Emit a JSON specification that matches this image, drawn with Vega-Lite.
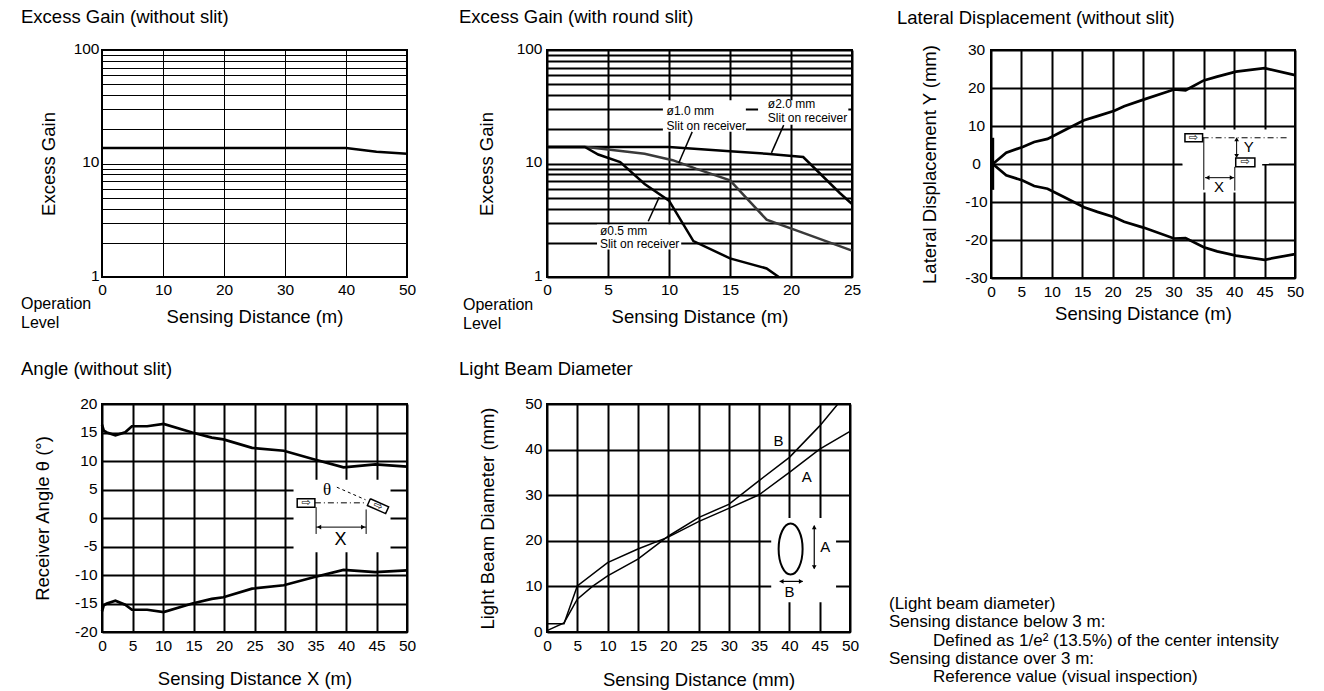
{
  "$schema": "https://vega.github.io/schema/vega-lite/v6.json",
  "background": "white",
  "padding": {"left": 20, "top": 6, "right": 0, "bottom": 0},
  "columns": 5,
  "align": "each",
  "bounds": "flush",
  "spacing": {"row": 126, "column": 10},
  "config": {
    "font": "Liberation Sans",
    "view": {"stroke": null},
    "axis": {"labelFont": "Liberation Sans", "titleFont": "Liberation Sans", "labelFontSize": 15.5, "titleFontSize": 18.5, "labelColor": "black", "titleColor": "black", "titleFontWeight": "normal", "domain": false, "ticks": false, "tickSize": 0, "gridColor": "black", "gridOpacity": 1, "labelPadding": 4, "titleBaseline": "middle", "labelOverlap": false, "labelFlush": false},
    "title": {"anchor": "start", "frame": "group", "font": "Liberation Sans", "fontSize": 18.5, "fontWeight": "normal", "color": "black", "baseline": "alphabetic", "offset": 15},
    "text": {"font": "Liberation Sans", "color": "black"}
  },
  "concat": [
    {
      "width": 305, "height": 227,
      "view": {"stroke": "black", "strokeWidth": 2},
      "title": {"text": "Excess Gain (without slit)", "dx": -81},
      "layer": [
        {
          "data": {"values": [{"d": 0, "g": 13.7}, {"d": 40, "g": 13.7}, {"d": 45, "g": 12.7}, {"d": 50, "g": 12.2}]},
          "mark": {"type": "line", "color": "black", "strokeWidth": 2.5},
          "encoding": {
            "x": {"field": "d", "type": "quantitative", "scale": {"domain": [0, 50], "nice": false, "zero": false},
                  "axis": {"values": [0, 10, 20, 30, 40, 50], "tickCount": 100, "labelExpr": "'' + datum.value", "labelOverlap": false, "grid": true, "gridWidth": 1, "labelPadding": 5, "title": "Sensing Distance (m)", "titleY": 39}},
            "y": {"field": "g", "type": "quantitative", "scale": {"type": "log", "domain": [1, 100], "nice": false},
                  "axis": {"values": [1, 2, 3, 4, 5, 6, 7, 8, 9, 10, 20, 30, 40, 50, 60, 70, 80, 90, 100], "tickCount": 100, "labelOverlap": false, "grid": true, "gridWidth": 1, "labelExpr": "datum.value == 1 || datum.value == 10 || datum.value == 100 ? '' + datum.value : ''", "labelPadding": 3, "labelOffset": -2, "title": "Excess Gain", "titleX": -54}}
          }
        },
        {
          "data": {"values": [{"label": ["Operation", "Level"]}]},
          "mark": {"type": "text", "align": "left", "baseline": "middle", "dx": -81, "dy": 26.5, "lineHeight": 19, "fontSize": 16},
          "encoding": {"x": {"datum": 0}, "y": {"datum": 1}, "text": {"field": "label"}}
        }
      ]
    },
    {"width": 120, "height": 1, "data": {"values": []}, "mark": "point", "encoding": {}},
    {
      "width": 305, "height": 227,
      "view": {"stroke": "black", "strokeWidth": 2},
      "title": {"text": "Excess Gain (with round slit)", "dx": -88},
      "layer": [
        {
          "data": {"values": [
            {"slit": "2.0", "d": 0, "g": 14}, {"slit": "2.0", "d": 10, "g": 14}, {"slit": "2.0", "d": 15, "g": 12.8}, {"slit": "2.0", "d": 18, "g": 12.2}, {"slit": "2.0", "d": 21, "g": 11.4}, {"slit": "2.0", "d": 24, "g": 5.5}, {"slit": "2.0", "d": 25, "g": 4.4},
            {"slit": "1.0", "d": 0, "g": 14}, {"slit": "1.0", "d": 3.2, "g": 14}, {"slit": "1.0", "d": 5, "g": 13.3}, {"slit": "1.0", "d": 8, "g": 12.2}, {"slit": "1.0", "d": 10.3, "g": 10.7}, {"slit": "1.0", "d": 12.2, "g": 9.0}, {"slit": "1.0", "d": 15, "g": 7.1}, {"slit": "1.0", "d": 18, "g": 3.2}, {"slit": "1.0", "d": 21, "g": 2.45}, {"slit": "1.0", "d": 25, "g": 1.71},
            {"slit": "0.5", "d": 0, "g": 14}, {"slit": "0.5", "d": 3.1, "g": 14}, {"slit": "0.5", "d": 4.2, "g": 12.0}, {"slit": "0.5", "d": 6, "g": 10.3}, {"slit": "0.5", "d": 8, "g": 6.6}, {"slit": "0.5", "d": 10, "g": 4.7}, {"slit": "0.5", "d": 12, "g": 2.07}, {"slit": "0.5", "d": 15, "g": 1.46}, {"slit": "0.5", "d": 18, "g": 1.19}, {"slit": "0.5", "d": 19, "g": 1.0}
          ]},
          "mark": {"type": "line", "strokeWidth": 2.5},
          "encoding": {
            "x": {"field": "d", "type": "quantitative", "scale": {"domain": [0, 25], "nice": false, "zero": false},
                  "axis": {"values": [0, 5, 10, 15, 20, 25], "tickCount": 100, "labelExpr": "'' + datum.value", "labelOverlap": false, "grid": true, "gridWidth": 2, "labelPadding": 5, "title": "Sensing Distance (m)", "titleY": 39}},
            "y": {"field": "g", "type": "quantitative", "scale": {"type": "log", "domain": [1, 100], "nice": false},
                  "axis": {"values": [1, 2, 3, 4, 5, 6, 7, 8, 9, 10, 20, 30, 40, 50, 60, 70, 80, 90, 100], "tickCount": 100, "labelOverlap": false, "grid": true, "gridWidth": 2, "labelExpr": "datum.value == 1 || datum.value == 10 || datum.value == 100 ? '' + datum.value : ''", "labelPadding": 5, "labelOffset": -2, "title": "Excess Gain", "titleX": -61}},
            "color": {"field": "slit", "type": "nominal", "scale": {"domain": ["0.5", "1.0", "2.0"], "range": ["black", "#3a3a3a", "black"]}, "legend": null}
          }
        },
        {
          "data": {"values": [{"x": 9.5, "x2": 16.3, "y": 19, "y2": 36}, {"x": 17.3, "x2": 24.7, "y": 22, "y2": 36}, {"x": 4.1, "x2": 11.0, "y": 1.75, "y2": 2.9}]},
          "mark": {"type": "rect", "color": "white"},
          "encoding": {"x": {"field": "x", "type": "quantitative"}, "x2": {"field": "x2"}, "y": {"field": "y", "type": "quantitative"}, "y2": {"field": "y2"}}
        },
        {
          "data": {"values": [{"x": 11.9, "y": 19.0, "x2": 10.8, "y2": 10.1}, {"x": 19.4, "y": 21.8, "x2": 18.4, "y2": 12.4}, {"x": 8.3, "y": 3.1, "x2": 9.2, "y2": 5.05}]},
          "mark": {"type": "rule", "color": "black", "strokeWidth": 1.5},
          "encoding": {"x": {"field": "x", "type": "quantitative"}, "x2": {"field": "x2"}, "y": {"field": "y", "type": "quantitative"}, "y2": {"field": "y2"}}
        },
        {
          "data": {"values": [
            {"x": 9.8, "y": 28.9, "t": "ø1.0 mm"}, {"x": 9.8, "y": 21.3, "t": "Slit on receiver"},
            {"x": 18.1, "y": 33.5, "t": "ø2.0 mm"}, {"x": 18.1, "y": 25.3, "t": "Slit on receiver"},
            {"x": 4.34, "y": 2.53, "t": "ø0.5 mm"}, {"x": 4.34, "y": 1.96, "t": "Slit on receiver"}
          ]},
          "mark": {"type": "text", "align": "left", "baseline": "middle", "fontSize": 12},
          "encoding": {"x": {"field": "x", "type": "quantitative"}, "y": {"field": "y", "type": "quantitative"}, "text": {"field": "t"}}
        },
        {
          "data": {"values": [{"label": ["Operation", "Level"]}]},
          "mark": {"type": "text", "align": "left", "baseline": "middle", "dx": -84, "dy": 28, "lineHeight": 19, "fontSize": 16},
          "encoding": {"x": {"datum": 0}, "y": {"datum": 1}, "text": {"field": "label"}}
        }
      ]
    },
    {"width": 119, "height": 1, "data": {"values": []}, "mark": "point", "encoding": {}},
    {
      "width": 304, "height": 228,
      "view": {"stroke": "black", "strokeWidth": 2},
      "title": {"text": "Lateral Displacement (without slit)", "dx": -94},
      "layer": [
        {
          "data": {"values": [
            {"side": "up", "d": 0.3, "y": 0}, {"side": "up", "d": 2.5, "y": 2.95}, {"side": "up", "d": 5.2, "y": 4.5}, {"side": "up", "d": 7.1, "y": 5.8}, {"side": "up", "d": 9.3, "y": 6.6}, {"side": "up", "d": 12, "y": 8.8}, {"side": "up", "d": 15.3, "y": 11.5}, {"side": "up", "d": 17.5, "y": 12.6}, {"side": "up", "d": 20.3, "y": 14}, {"side": "up", "d": 21.9, "y": 15.2}, {"side": "up", "d": 25.2, "y": 17}, {"side": "up", "d": 30.1, "y": 19.6}, {"side": "up", "d": 32, "y": 19.4}, {"side": "up", "d": 35, "y": 22}, {"side": "up", "d": 37.2, "y": 23}, {"side": "up", "d": 40.3, "y": 24.3}, {"side": "up", "d": 45, "y": 25.2}, {"side": "up", "d": 50, "y": 23.4},
            {"side": "down", "d": 0.3, "y": 0}, {"side": "down", "d": 2.5, "y": -2.95}, {"side": "down", "d": 5.2, "y": -4.35}, {"side": "down", "d": 7.1, "y": -5.8}, {"side": "down", "d": 9.3, "y": -6.5}, {"side": "down", "d": 12, "y": -8.7}, {"side": "down", "d": 15.3, "y": -11.4}, {"side": "down", "d": 17.5, "y": -12.6}, {"side": "down", "d": 20.3, "y": -14}, {"side": "down", "d": 21.9, "y": -15.2}, {"side": "down", "d": 25.2, "y": -16.8}, {"side": "down", "d": 30.1, "y": -19.6}, {"side": "down", "d": 32, "y": -19.5}, {"side": "down", "d": 35, "y": -21.9}, {"side": "down", "d": 37.2, "y": -23}, {"side": "down", "d": 40.3, "y": -24.1}, {"side": "down", "d": 45, "y": -25.2}, {"side": "down", "d": 50, "y": -23.7}
          ]},
          "mark": {"type": "line", "color": "black", "strokeWidth": 2.7},
          "encoding": {
            "x": {"field": "d", "type": "quantitative", "scale": {"domain": [0, 50], "nice": false, "zero": false},
                  "axis": {"values": [0, 5, 10, 15, 20, 25, 30, 35, 40, 45, 50], "tickCount": 100, "labelExpr": "'' + datum.value", "labelOverlap": false, "grid": true, "gridWidth": 2, "labelPadding": 6, "title": "Sensing Distance (m)", "titleY": 35}},
            "y": {"field": "y", "type": "quantitative", "scale": {"domain": [-30, 30], "nice": false, "zero": false},
                  "axis": {"values": [-30, -20, -10, 0, 10, 20, 30], "tickCount": 100, "labelOverlap": false, "grid": true, "gridWidth": 2, "labelExpr": "'' + datum.value", "labelAlign": "center", "labelPadding": 15, "labelOffset": -1, "title": "Lateral Displacement Y (mm)", "titleX": -62}},
            "detail": {"field": "side"}
          }
        },
        {
          "data": {"values": [{"x": 0.28, "y": 6.9, "y2": -6.8}]},
          "mark": {"type": "rule", "color": "black", "strokeWidth": 3},
          "encoding": {"x": {"field": "x", "type": "quantitative"}, "y": {"field": "y", "type": "quantitative"}, "y2": {"field": "y2"}}
        },
        {
          "data": {"values": [{"x": 31.5, "x2": 45.7, "y": 0, "y2": 9.1}, {"x": 31.5, "x2": 44.6, "y": -7.5, "y2": 0.1}]},
          "mark": {"type": "rect", "color": "white"},
          "encoding": {"x": {"field": "x", "type": "quantitative"}, "x2": {"field": "x2"}, "y": {"field": "y", "type": "quantitative"}, "y2": {"field": "y2"}}
        },
        {
          "data": {"values": [{"x": 34.8, "x2": 48.8, "y": 6.9, "y2": 6.9}]},
          "mark": {"type": "rule", "color": "black", "strokeWidth": 1, "strokeDash": [6, 3, 1, 3]},
          "encoding": {"x": {"field": "x", "type": "quantitative"}, "x2": {"field": "x2"}, "y": {"field": "y", "type": "quantitative"}, "y2": {"field": "y2"}}
        },
        {
          "data": {"values": [
            {"x": 35, "x2": 35, "y": 6.9, "y2": -6.8}, {"x": 40.1, "x2": 40.1, "y": -0.75, "y2": -7.0},
            {"x": 40.4, "x2": 40.4, "y": 6.6, "y2": 2.0}, {"x": 35.2, "x2": 40.0, "y": -3.6, "y2": -3.6}
          ]},
          "mark": {"type": "rule", "color": "black", "strokeWidth": 1},
          "encoding": {"x": {"field": "x", "type": "quantitative"}, "x2": {"field": "x2"}, "y": {"field": "y", "type": "quantitative"}, "y2": {"field": "y2"}}
        },
        {
          "data": {"values": [{"x": 40.4, "y": 6.5, "s": "triangle-up"}, {"x": 40.4, "y": 2.1, "s": "triangle-down"}, {"x": 35.6, "y": -3.6, "s": "triangle-left"}, {"x": 39.6, "y": -3.6, "s": "triangle-right"}]},
          "mark": {"type": "point", "filled": true, "color": "black", "opacity": 1, "size": 22},
          "encoding": {"x": {"field": "x", "type": "quantitative"}, "y": {"field": "y", "type": "quantitative"}, "shape": {"field": "s", "type": "nominal", "scale": null}}
        },
        {
          "data": {"values": [{"x": 31.9, "x2": 34.8, "y": 5.85, "y2": 7.95}, {"x": 40.25, "x2": 43.4, "y": -0.75, "y2": 1.6}]},
          "mark": {"type": "rect", "fill": "white", "stroke": "black", "strokeWidth": 1.5},
          "encoding": {"x": {"field": "x", "type": "quantitative"}, "x2": {"field": "x2"}, "y": {"field": "y", "type": "quantitative"}, "y2": {"field": "y2"}}
        },
        {
          "data": {"values": [{"x": 33.3, "y": 6.9, "t": "⇨"}, {"x": 41.8, "y": 0.45, "t": "⇨"}]},
          "mark": {"type": "text", "font": "DejaVu Sans", "fontSize": 11, "align": "center", "baseline": "middle"},
          "encoding": {"x": {"field": "x", "type": "quantitative"}, "y": {"field": "y", "type": "quantitative"}, "text": {"field": "t"}}
        },
        {
          "data": {"values": [{"x": 42.4, "y": 4.4, "t": "Y"}, {"x": 37.5, "y": -6.1, "t": "X"}]},
          "mark": {"type": "text", "fontSize": 15, "align": "center", "baseline": "middle"},
          "encoding": {"x": {"field": "x", "type": "quantitative"}, "y": {"field": "y", "type": "quantitative"}, "text": {"field": "t"}}
        }
      ]
    },
    {
      "width": 305, "height": 228,
      "view": {"stroke": "black", "strokeWidth": 2},
      "title": {"text": "Angle (without slit)", "dx": -81, "offset": 18},
      "layer": [
        {
          "data": {"values": [
            {"side": "up", "d": 0, "a": 16.4}, {"side": "up", "d": 0.3, "a": 15.3}, {"side": "up", "d": 0.8, "a": 15.0}, {"side": "up", "d": 2.2, "a": 14.5}, {"side": "up", "d": 3.8, "a": 15.05}, {"side": "up", "d": 4.9, "a": 16.1}, {"side": "up", "d": 7.4, "a": 16.1}, {"side": "up", "d": 10.1, "a": 16.5}, {"side": "up", "d": 14.8, "a": 15.0}, {"side": "up", "d": 18, "a": 14.1}, {"side": "up", "d": 19.9, "a": 13.8}, {"side": "up", "d": 24.6, "a": 12.3}, {"side": "up", "d": 29.8, "a": 11.8}, {"side": "up", "d": 34.7, "a": 10.3}, {"side": "up", "d": 39.6, "a": 8.9}, {"side": "up", "d": 44.8, "a": 9.4}, {"side": "up", "d": 50, "a": 9.0},
            {"side": "down", "d": 0, "a": -16.4}, {"side": "down", "d": 0.3, "a": -15.3}, {"side": "down", "d": 0.8, "a": -15.0}, {"side": "down", "d": 2.2, "a": -14.5}, {"side": "down", "d": 3.8, "a": -15.2}, {"side": "down", "d": 4.9, "a": -16.1}, {"side": "down", "d": 7.4, "a": -16.1}, {"side": "down", "d": 10.1, "a": -16.5}, {"side": "down", "d": 14.8, "a": -15.0}, {"side": "down", "d": 18, "a": -14.2}, {"side": "down", "d": 19.9, "a": -13.9}, {"side": "down", "d": 24.6, "a": -12.4}, {"side": "down", "d": 29.8, "a": -11.8}, {"side": "down", "d": 34.7, "a": -10.4}, {"side": "down", "d": 39.6, "a": -9.1}, {"side": "down", "d": 44.8, "a": -9.5}, {"side": "down", "d": 50, "a": -9.2}
          ]},
          "mark": {"type": "line", "color": "black", "strokeWidth": 2.7},
          "encoding": {
            "x": {"field": "d", "type": "quantitative", "scale": {"domain": [0, 50], "nice": false, "zero": false},
                  "axis": {"values": [0, 5, 10, 15, 20, 25, 30, 35, 40, 45, 50], "tickCount": 100, "labelExpr": "'' + datum.value", "labelOverlap": false, "grid": true, "gridWidth": 2, "labelPadding": 6, "title": "Sensing Distance X (m)", "titleY": 46}},
            "y": {"field": "a", "type": "quantitative", "scale": {"domain": [-20, 20], "nice": false, "zero": false},
                  "axis": {"values": [-20, -15, -10, -5, 0, 5, 10, 15, 20], "tickCount": 100, "labelOverlap": false, "grid": true, "gridWidth": 2, "labelExpr": "'' + datum.value", "labelPadding": 5, "labelOffset": -1, "title": "Receiver Angle θ (°)", "titleX": -60}},
            "detail": {"field": "side"}
          }
        },
        {
          "data": {"values": [{"x": 31.4, "x2": 47.3, "y": -6.0, "y2": 6.7}]},
          "mark": {"type": "rect", "color": "white"},
          "encoding": {"x": {"field": "x", "type": "quantitative"}, "x2": {"field": "x2"}, "y": {"field": "y", "type": "quantitative"}, "y2": {"field": "y2"}}
        },
        {
          "data": {"values": [{"x": 34.9, "x2": 43.4, "y": 2.66, "y2": 2.66}]},
          "mark": {"type": "rule", "color": "black", "strokeWidth": 1, "strokeDash": [6, 3, 1, 3]},
          "encoding": {"x": {"field": "x", "type": "quantitative"}, "x2": {"field": "x2"}, "y": {"field": "y", "type": "quantitative"}, "y2": {"field": "y2"}}
        },
        {
          "data": {"values": [{"x": 38.5, "x2": 43.2, "y": 5.4, "y2": 3.2}]},
          "mark": {"type": "rule", "color": "black", "strokeWidth": 1, "strokeDash": [3, 3]},
          "encoding": {"x": {"field": "x", "type": "quantitative"}, "x2": {"field": "x2"}, "y": {"field": "y", "type": "quantitative"}, "y2": {"field": "y2"}}
        },
        {
          "data": {"values": [
            {"x": 35.1, "x2": 35.1, "y": 1.9, "y2": -2.8}, {"x": 43.3, "x2": 43.3, "y": 1.5, "y2": -2.8},
            {"x": 35.1, "x2": 43.3, "y": -1.6, "y2": -1.6}
          ]},
          "mark": {"type": "rule", "color": "black", "strokeWidth": 1},
          "encoding": {"x": {"field": "x", "type": "quantitative"}, "x2": {"field": "x2"}, "y": {"field": "y", "type": "quantitative"}, "y2": {"field": "y2"}}
        },
        {
          "data": {"values": [{"x": 35.6, "y": -1.6, "s": "triangle-left"}, {"x": 42.8, "y": -1.6, "s": "triangle-right"}]},
          "mark": {"type": "point", "filled": true, "color": "black", "opacity": 1, "size": 22},
          "encoding": {"x": {"field": "x", "type": "quantitative"}, "y": {"field": "y", "type": "quantitative"}, "shape": {"field": "s", "type": "nominal", "scale": null}}
        },
        {
          "data": {"values": [{"x": 32.0, "x2": 34.9, "y": 1.9, "y2": 3.36}]},
          "mark": {"type": "rect", "fill": "white", "stroke": "black", "strokeWidth": 1.5},
          "encoding": {"x": {"field": "x", "type": "quantitative"}, "x2": {"field": "x2"}, "y": {"field": "y", "type": "quantitative"}, "y2": {"field": "y2"}}
        },
        {
          "data": {"values": [{"o": 1, "x": 43.99, "y": 3.37}, {"o": 2, "x": 46.99, "y": 1.95}, {"o": 3, "x": 46.5, "y": 0.77}, {"o": 4, "x": 43.5, "y": 2.19}, {"o": 5, "x": 43.99, "y": 3.37}]},
          "mark": {"type": "line", "color": "black", "strokeWidth": 1.5},
          "encoding": {"x": {"field": "x", "type": "quantitative"}, "y": {"field": "y", "type": "quantitative"}, "order": {"field": "o"}}
        },
        {
          "data": {"values": [{"x": 33.45, "y": 2.63, "t": "⇨", "ang": 0}, {"x": 45.25, "y": 2.07, "t": "⇨", "ang": 24}]},
          "mark": {"type": "text", "font": "DejaVu Sans", "fontSize": 11, "align": "center", "baseline": "middle"},
          "encoding": {"x": {"field": "x", "type": "quantitative"}, "y": {"field": "y", "type": "quantitative"}, "text": {"field": "t"}, "angle": {"field": "ang", "type": "quantitative", "scale": null}}
        },
        {
          "data": {"values": [{"x": 36.9, "y": 5.0, "t": "θ"}]},
          "mark": {"type": "text", "font": "Liberation Serif", "fontSize": 17, "align": "center", "baseline": "middle"},
          "encoding": {"x": {"field": "x", "type": "quantitative"}, "y": {"field": "y", "type": "quantitative"}, "text": {"field": "t"}}
        },
        {
          "data": {"values": [{"x": 39.1, "y": -3.8, "t": "X"}]},
          "mark": {"type": "text", "fontSize": 18, "align": "center", "baseline": "middle"},
          "encoding": {"x": {"field": "x", "type": "quantitative"}, "y": {"field": "y", "type": "quantitative"}, "text": {"field": "t"}}
        }
      ]
    },
    {"width": 120, "height": 1, "data": {"values": []}, "mark": "point", "encoding": {}},
    {
      "width": 303, "height": 228,
      "view": {"stroke": "black", "strokeWidth": 2},
      "title": {"text": "Light Beam Diameter", "dx": -88, "offset": 18},
      "layer": [
        {
          "data": {"values": [
            {"c": "A", "d": 0, "v": 1.8}, {"c": "A", "d": 2.8, "v": 1.8}, {"c": "A", "d": 5, "v": 10.1}, {"c": "A", "d": 10, "v": 15.2}, {"c": "A", "d": 15, "v": 18.2}, {"c": "A", "d": 20, "v": 20.8}, {"c": "A", "d": 25, "v": 24.2}, {"c": "A", "d": 30, "v": 27.1}, {"c": "A", "d": 35, "v": 30.1}, {"c": "A", "d": 40, "v": 35}, {"c": "A", "d": 45, "v": 40.1}, {"c": "A", "d": 50, "v": 44},
            {"c": "B", "d": 0, "v": 0.3}, {"c": "B", "d": 2.8, "v": 2.0}, {"c": "B", "d": 5, "v": 7.2}, {"c": "B", "d": 7.5, "v": 10}, {"c": "B", "d": 10, "v": 12.3}, {"c": "B", "d": 15, "v": 16}, {"c": "B", "d": 20, "v": 21}, {"c": "B", "d": 25, "v": 25.1}, {"c": "B", "d": 30, "v": 28}, {"c": "B", "d": 35, "v": 33.2}, {"c": "B", "d": 40, "v": 38.3}, {"c": "B", "d": 45, "v": 45.2}, {"c": "B", "d": 48, "v": 50}
          ]},
          "mark": {"type": "line", "color": "black", "strokeWidth": 1.5},
          "encoding": {
            "x": {"field": "d", "type": "quantitative", "scale": {"domain": [0, 50], "nice": false, "zero": false},
                  "axis": {"values": [0, 5, 10, 15, 20, 25, 30, 35, 40, 45, 50], "tickCount": 100, "labelExpr": "'' + datum.value", "labelOverlap": false, "grid": true, "gridWidth": 2, "labelPadding": 6, "title": "Sensing Distance (mm)", "titleY": 47}},
            "y": {"field": "v", "type": "quantitative", "scale": {"domain": [0, 50], "nice": false, "zero": false},
                  "axis": {"values": [0, 10, 20, 30, 40, 50], "tickCount": 100, "labelExpr": "'' + datum.value", "labelOverlap": false, "grid": true, "gridWidth": 2, "labelPadding": 5, "labelOffset": -1, "title": "Light Beam Diameter (mm)", "titleX": -60}},
            "detail": {"field": "c"}
          }
        },
        {
          "data": {"values": [{"x": 37, "x2": 47.7, "y": 6.5, "y2": 25}]},
          "mark": {"type": "rect", "color": "white"},
          "encoding": {"x": {"field": "x", "type": "quantitative"}, "x2": {"field": "x2"}, "y": {"field": "y", "type": "quantitative"}, "y2": {"field": "y2"}}
        },
        {
          "data": {"values": [{"x": 40.2, "y": 18.2}]},
          "mark": {"type": "point", "shape": "M0,-1A0.47,1,0,1,1,0,1A0.47,1,0,1,1,0,-1Z", "size": 2601, "filled": false, "color": "black", "opacity": 1, "strokeWidth": 2},
          "encoding": {"x": {"field": "x", "type": "quantitative"}, "y": {"field": "y", "type": "quantitative"}}
        },
        {
          "data": {"values": [{"x": 44.1, "x2": 44.1, "y": 23.3, "y2": 13.9}, {"x": 38.4, "x2": 42.2, "y": 11.1, "y2": 11.1}]},
          "mark": {"type": "rule", "color": "black", "strokeWidth": 1.2},
          "encoding": {"x": {"field": "x", "type": "quantitative"}, "x2": {"field": "x2"}, "y": {"field": "y", "type": "quantitative"}, "y2": {"field": "y2"}}
        },
        {
          "data": {"values": [{"x": 44.1, "y": 23.0, "s": "triangle-up"}, {"x": 44.1, "y": 14.2, "s": "triangle-down"}, {"x": 38.7, "y": 11.1, "s": "triangle-left"}, {"x": 41.9, "y": 11.1, "s": "triangle-right"}]},
          "mark": {"type": "point", "filled": true, "color": "black", "opacity": 1, "size": 22},
          "encoding": {"x": {"field": "x", "type": "quantitative"}, "y": {"field": "y", "type": "quantitative"}, "shape": {"field": "s", "type": "nominal", "scale": null}}
        },
        {
          "data": {"values": [{"x": 45.9, "y": 18.7, "t": "A"}, {"x": 40.0, "y": 8.8, "t": "B"}, {"x": 38.2, "y": 41.9, "t": "B"}, {"x": 42.85, "y": 33.9, "t": "A"}]},
          "mark": {"type": "text", "fontSize": 15, "align": "center", "baseline": "middle"},
          "encoding": {"x": {"field": "x", "type": "quantitative"}, "y": {"field": "y", "type": "quantitative"}, "text": {"field": "t"}}
        }
      ]
    },
    {
      "width": 119, "height": 283,
      "data": {"values": [
        {"line": 1, "indent": 0, "text": "(Light beam diameter)"},
        {"line": 2, "indent": 0, "text": "Sensing distance below 3 m:"},
        {"line": 3, "indent": 1, "text": "Defined as 1/e² (13.5%) of the center intensity"},
        {"line": 4, "indent": 0, "text": "Sensing distance over 3 m:"},
        {"line": 5, "indent": 1, "text": "Reference value (visual inspection)"}
      ]},
      "mark": {"type": "text", "align": "left", "baseline": "middle", "fontSize": 17},
      "encoding": {
        "x": {"field": "indent", "type": "quantitative", "scale": {"domain": [0, 1], "range": [27, 71]}, "axis": null},
        "y": {"field": "line", "type": "quantitative", "scale": {"domain": [1, 5], "range": [200, 273]}, "axis": null},
        "text": {"field": "text"}
      }
    }
  ]
}
